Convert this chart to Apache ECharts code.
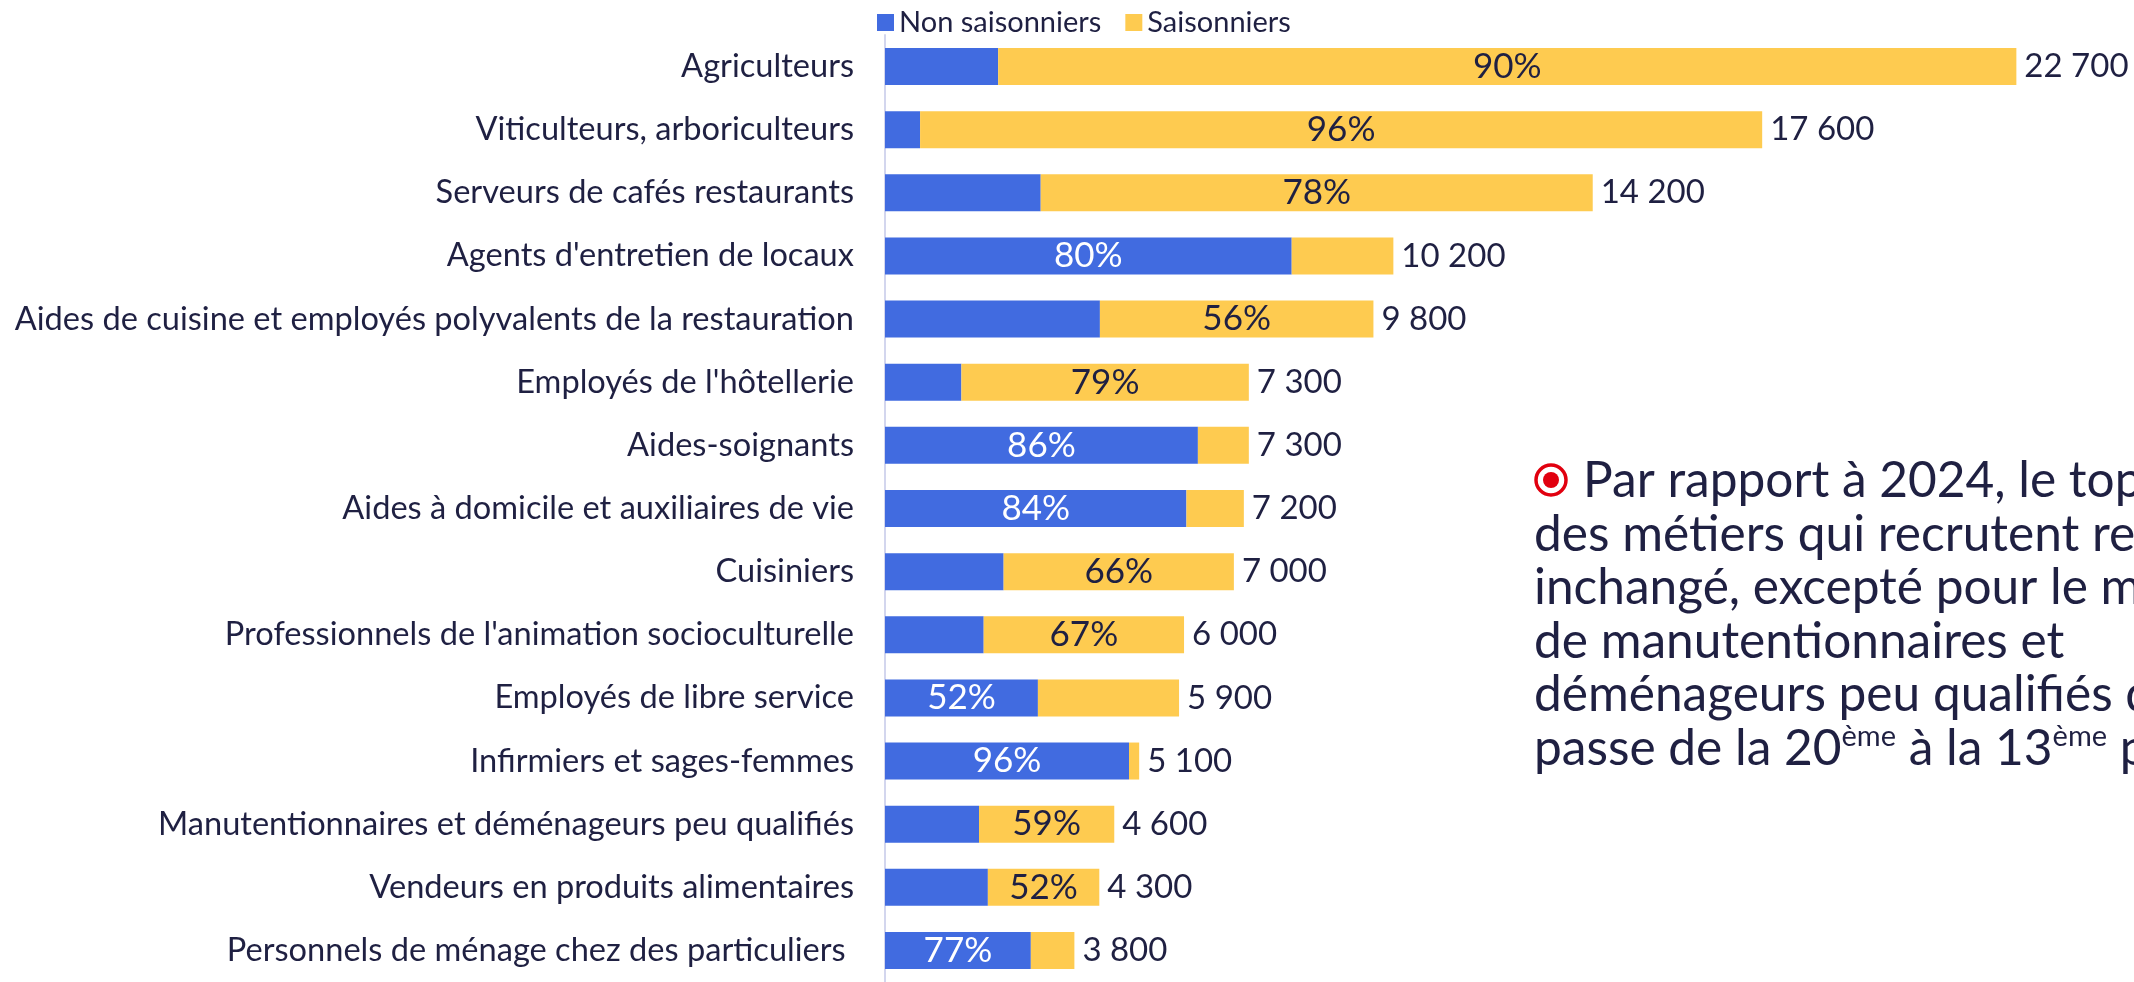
<!DOCTYPE html>
<html>
<head>
<meta charset="utf-8">
<script src="https://cdn.jsdelivr.net/npm/echarts@6/dist/echarts.min.js"></script>
<style>
html, body { margin: 0; padding: 0; background: #fff; }
#chart { width: 2134px; height: 982px; }
</style>
</head>
<body>
<div id="chart"></div>
<script>
var categories = [
    'Agriculteurs',
    'Viticulteurs, arboriculteurs',
    'Serveurs de cafés restaurants',
    "Agents d'entretien de locaux",
    'Aides de cuisine et employés polyvalents de la restauration',
    "Employés de l'hôtellerie",
    'Aides-soignants',
    'Aides à domicile et auxiliaires de vie',
    'Cuisiniers',
    "Professionnels de l'animation socioculturelle",
    'Employés de libre service',
    'Infirmiers et sages-femmes',
    'Manutentionnaires et déménageurs peu qualifiés',
    'Vendeurs en produits alimentaires',
    'Personnels de ménage chez des particuliers '
];
var totals = [22700, 17600, 14200, 10200, 9800, 7300, 7300, 7200, 7000, 6000, 5900, 5100, 4600, 4300, 3800];
// part des non saisonniers (%)
var nonSeasonalPct = [10, 4, 22, 80, 44, 21, 86, 84, 34, 33, 52, 96, 41, 48, 77];
var seasonalPct = nonSeasonalPct.map(function (p) { return 100 - p; });

var BLUE = '#416be0';
var YELLOW = '#fecb50';
var INK = '#1f2042';
var RED = '#e1000f';
var FONT = 'Lato';

function fmt(n) {
    return String(n).replace(/\B(?=(\d{3})+(?!\d))/g, ' ');
}

var blueData = totals.map(function (t, i) {
    return {
        value: t * nonSeasonalPct[i] / 100,
        label: { show: nonSeasonalPct[i] > 50 }
    };
});
var yellowData = totals.map(function (t, i) {
    return {
        value: t * seasonalPct[i] / 100,
        label: { show: seasonalPct[i] > 50 }
    };
});
var totalData = totals.map(function (t, i) { return [t, i]; });

var chart = echarts.init(document.getElementById('chart'));

chart.setOption({
    animation: false,
    textStyle: { fontFamily: FONT },
    legend: {
        data: ['Non saisonniers', 'Saisonniers'],
        left: 872,
        top: 3,
        icon: 'rect',
        itemWidth: 17,
        itemHeight: 17,
        itemGap: 24,
        textStyle: { fontSize: 29, color: INK, fontFamily: FONT }
    },
    grid: {
        left: 885,
        top: 35,
        width: 1246,
        height: 954
    },
    xAxis: {
        type: 'value',
        min: 0,
        max: 25000,
        show: false,
        splitLine: { show: false }
    },
    yAxis: {
        type: 'category',
        inverse: true,
        data: categories,
        axisTick: { show: false },
        axisLine: { lineStyle: { color: '#d3d6ee', width: 2 } },
        axisLabel: { fontSize: 32.6, color: INK, margin: 31, fontFamily: FONT }
    },
    series: [
        {
            name: 'Non saisonniers',
            type: 'bar',
            stack: 'total',
            barWidth: 37,
            itemStyle: { color: BLUE },
            label: {
                position: 'inside',
                color: '#fff',
                fontSize: 35,
                fontFamily: FONT,
                formatter: function (p) { return nonSeasonalPct[p.dataIndex] + '%'; }
            },
            data: blueData
        },
        {
            name: 'Saisonniers',
            type: 'bar',
            stack: 'total',
            barWidth: 37,
            itemStyle: { color: YELLOW },
            label: {
                position: 'inside',
                color: INK,
                fontSize: 35,
                fontFamily: FONT,
                formatter: function (p) { return seasonalPct[p.dataIndex] + '%'; }
            },
            data: yellowData
        },
        {
            // totaux en bout de barre
            name: 'Total',
            type: 'scatter',
            symbolSize: 0,
            silent: true,
            itemStyle: { opacity: 1 },
            label: {
                show: true,
                position: 'right',
                distance: 8,
                color: INK,
                opacity: 1,
                fontSize: 33,
                fontFamily: FONT,
                formatter: function (p) { return fmt(totals[p.dataIndex]); }
            },
            data: totalData
        }
    ],
    graphic: [
        {
            type: 'circle',
            shape: { cx: 1551, cy: 480, r: 15 },
            style: { fill: 'none', stroke: RED, lineWidth: 3.5 }
        },
        {
            type: 'circle',
            shape: { cx: 1551, cy: 480, r: 8 },
            style: { fill: RED }
        },
        {
            type: 'text',
            x: 1583,
            y: 481,
            style: {
                text: 'Par rapport à 2024, le top 15',
                fontSize: 49.6,
                fontFamily: FONT,
                fill: INK,
                verticalAlign: 'middle'
            }
        },
        {
            type: 'text',
            x: 1534,
            y: 508,
            style: {
                text: 'des métiers qui recrutent reste\ninchangé, excepté pour le métier\nde manutentionnaires et\ndéménageurs peu qualifiés qui\npasse de la 20{sup|ème} à la 13{sup|ème} place',
                fontSize: 49.6,
                lineHeight: 53.5,
                fontFamily: FONT,
                fill: INK,
                verticalAlign: 'top',
                rich: {
                    sup: {
                        fontSize: 29,
                        lineHeight: 28,
                        verticalAlign: 'top',
                        fontFamily: FONT,
                        fill: INK
                    }
                }
            }
        }
    ]
});
</script>
</body>
</html>
